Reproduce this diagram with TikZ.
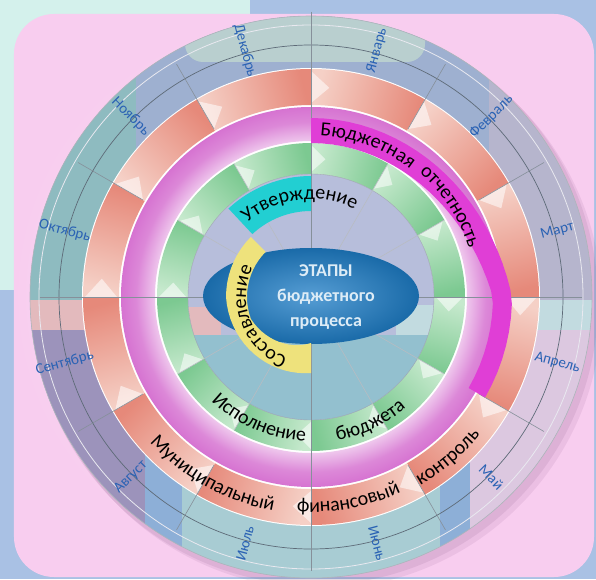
\documentclass[tikz,border=0pt]{standalone}
\usepackage{fontspec}
\setmainfont{Carlito}
\usetikzlibrary{decorations.text}

\definecolor{mint}{HTML}{D4F1EC}
\definecolor{skyBlue}{HTML}{A9C1E4}
\definecolor{bgPink}{HTML}{F8CDEF}
\definecolor{bandGray}{HTML}{B6B5CD}
\definecolor{bandTeal}{HTML}{8EBBC0}
\definecolor{bandBlue}{HTML}{9EB0D0}
\definecolor{bandPale}{HTML}{B9CFCF}
\definecolor{bandRose}{HTML}{E3BABD}
\definecolor{bandPurple}{HTML}{9C93BB}
\definecolor{bandStrip}{HTML}{8DAFD7}
\definecolor{bandAqua}{HTML}{A8CCD3}
\definecolor{bandLilac}{HTML}{DCC8E0}
\definecolor{diskGray}{HTML}{B7BEDB}
\definecolor{diskTeal}{HTML}{93C0CF}
\definecolor{salmon}{HTML}{E6897A}
\definecolor{salmonLight}{HTML}{F5D0C6}
\definecolor{leaf}{HTML}{7CC991}
\definecolor{leafLight}{HTML}{C6E9CD}
\definecolor{ringPink}{HTML}{D673D1}
\definecolor{fuchsia}{HTML}{E03ED6}
\definecolor{turquoise}{HTML}{22CFD2}
\definecolor{lemon}{HTML}{EEE27C}
\definecolor{ovalBlue}{HTML}{1E7DC6}
\definecolor{monthBlue}{HTML}{2A62B4}
\definecolor{edgeGray}{HTML}{5E6B78}

\pgfdeclareradialshading{pinkRing}{\pgfpoint{0bp}{0bp}}{%
  color(0bp)=(white); color(20.5bp)=(ringPink!40!white);
  color(23bp)=(ringPink!85!white); color(25bp)=(ringPink); color(50bp)=(ringPink)}

\tikzset{
  ray/.style={draw=edgeGray!75, line width=0.6pt},
  bevel/.style={fill=white, opacity=0.55},
  month/.style={text=monthBlue, font=\fontsize{15}{15}\selectfont},
  ringText/.style={decorate, decoration={text along path, text align=center,
    text={|\fontsize{20}{20}\selectfont|#1}}},
}

\begin{document}
\begin{tikzpicture}[x=1pt, y=1pt]
  % Sfondo
  \useasboundingbox (-311,-282) rectangle (285,297);
  \fill[skyBlue] (-311,-282) rectangle (285,297);
  \fill[mint] (-311,7) rectangle (-61,297);
  \shade[inner color=bgPink!25!white, outer color=bgPink, rounded corners=40]
    (-297,-280) rectangle (283,283);
  \fill[violet!40!gray, opacity=0.1] (8,-9) circle[radius=283];
  \fill[violet!40!gray, opacity=0.12] (4,-5) circle[radius=283];

  % Fascia dei mesi
  \begin{scope}
    \clip (0,0) circle[radius=281];
    \fill[bandGray] (-281,-281) rectangle (281,281);
    \fill[bandTeal] (-281,-3) rectangle (-175,281);
    \fill[bandBlue] (-175,97) rectangle (178,281);
    \fill[bandPale, rounded corners=18] (-126,235) rectangle (114,300);
    \fill[bandRose] (-281,-33) rectangle (-166,-3);
    \fill[bandPurple] (-281,-281) rectangle (-166,-33);
    \fill[bandStrip] (-166,-281) rectangle (-129,-83);
    \fill[bandAqua] (-129,-281) rectangle (129,-83);
    \fill[bandStrip] (129,-281) rectangle (159,-83);
    \fill[bandLilac] (159,-281) rectangle (281,-33);
    \fill[bandAqua!70!white] (189,-33) rectangle (281,-3);
  \end{scope}
  \draw[white!70!bandGray, line width=0.8pt] (0,0) circle[radius=272];
  \draw[edgeGray, line width=0.7pt] (0,0) circle[radius=252];
  \draw[edgeGray!50, line width=0.6pt] (0,0) circle[radius=281];

  % Anello salmone
  \fill[white] (0,0) circle[radius=229];
  \foreach \k in {0,...,11}{
    \pgfmathsetmacro{\ta}{90-30*\k}
    \pgfmathsetmacro{\tb}{60-30*\k}
    \pgfmathsetmacro{\tc}{75-30*\k}
    \shade[top color=salmonLight, bottom color=salmon, shading angle=\tc]
      (\ta:228) arc[start angle=\ta, end angle=\tb, radius=228]
      -- (\tb:192) arc[start angle=\tb, end angle=\ta, radius=192] -- cycle;
    \fill[bevel] (\ta:226) -- (\ta-5:210) -- (\ta:194) -- cycle;
  }

  % Anello rosa
  \shade[shading=pinkRing, even odd rule]
    (0,0) circle[radius=190] (0,0) circle[radius=156];

  % Anello verde
  \foreach \k in {0,...,11}{
    \pgfmathsetmacro{\ta}{90-30*\k}
    \pgfmathsetmacro{\tb}{60-30*\k}
    \pgfmathsetmacro{\tc}{75-30*\k}
    \shade[top color=leafLight, bottom color=leaf, shading angle=\tc]
      (\ta:154) arc[start angle=\ta, end angle=\tb, radius=154]
      -- (\tb:123) arc[start angle=\tb, end angle=\ta, radius=123] -- cycle;
    \fill[bevel] (\ta:152) -- (\ta-6:138.5) -- (\ta:125) -- cycle;
  }

  % Disco interno
  \begin{scope}
    \clip (0,0) circle[radius=123];
    \fill[diskGray] (-123,-123) rectangle (123,123);
    \fill[diskTeal] (-123,-123) rectangle (123,-38);
    \fill[bandRose] (-123,-38) rectangle (-90,-10);
    \fill[bandAqua!70!white] (85,-38) rectangle (123,-8);
  \end{scope}
  \draw[edgeGray!60] (0,0) circle[radius=123];

  % Raggi
  \foreach \t in {30,60,120,150,210,240,300,330}{
    \draw[ray] (\t:194) -- (\t:269);
    \draw[ray, draw=edgeGray!45] (0,0) -- (\t:154);
  }
  \draw[ray] (0,285) -- (0,-274);
  \draw[ray] (-271,0) -- (271,0);

  % Fasce delle fasi
  \fill[fuchsia]
    plot[domain=0:120, samples=31] ({90-\x}:{154+28*min(1,(\x/90)^3)})
    -- plot[domain=120:0, samples=31] ({90-\x}:{179+22*min(1,(\x/90)^3)}) -- cycle;
  \fill[turquoise] (90:121) arc[start angle=90, end angle=133, radius=121]
    -- (133:86) arc[start angle=133, end angle=90, radius=86] -- cycle;

  % Ovale centrale
  \shade[inner color=ovalBlue!75!white, outer color=ovalBlue!85!black]
    (0,1) ellipse[x radius=108, y radius=48];
  \fill[lemon]
    plot[domain=180:315, samples=28] ({90-\x}:{76+9*min(1,(\x-180)/90)})
    -- plot[domain=315:180, samples=28] ({90-\x}:{46+18*min(1,(\x-180)/70)}) -- cycle;
  \node[align=center, text=white!85!ovalBlue, font=\bfseries\fontsize{18}{25}\selectfont]
    (stages) at (15,0) {ЭТАПЫ\\бюджетного\\процесса};

  % Mesi
  \foreach \m [count=\i] in {Январь,Февраль,Март,Апрель,Май,Июнь,
      Июль,Август,Сентябрь,Октябрь,Ноябрь,Декабрь}{
    \pgfmathsetmacro{\t}{105-30*\i}
    \pgfmathsetmacro{\r}{\i<7 ? \t : \t+180}
    \node[month, rotate=\r] (month-\i) at (\t:255) {\m};
  }

  % Etichette sugli anelli
  \path[ringText=Бюджетная] (99.5:162) arc[start angle=99.5, end angle=39.5, radius=162];
  \path[ringText=отчетность] (63:165) arc[start angle=63, end angle=3, radius=165];
  \path[ringText=Утверждение] (137:98) arc[start angle=137, end angle=57, radius=98];
  \path[ringText=Составление] (266:65) arc[start angle=266, end angle=136, radius=65];
  \path[ringText=Исполнение] (217:144) arc[start angle=217, end angle=277, radius=144];
  \path[ringText=бюджета] (270:146) arc[start angle=270, end angle=321, radius=146];
  \path[ringText=Муниципальный] (216:217) arc[start angle=216, end angle=266, radius=217];
  \path[ringText=финансовый] (258:215) arc[start angle=258, end angle=303, radius=215];
  \path[ringText=контроль] (290:218) arc[start angle=290, end angle=331, radius=218];
\end{tikzpicture}
\end{document}
